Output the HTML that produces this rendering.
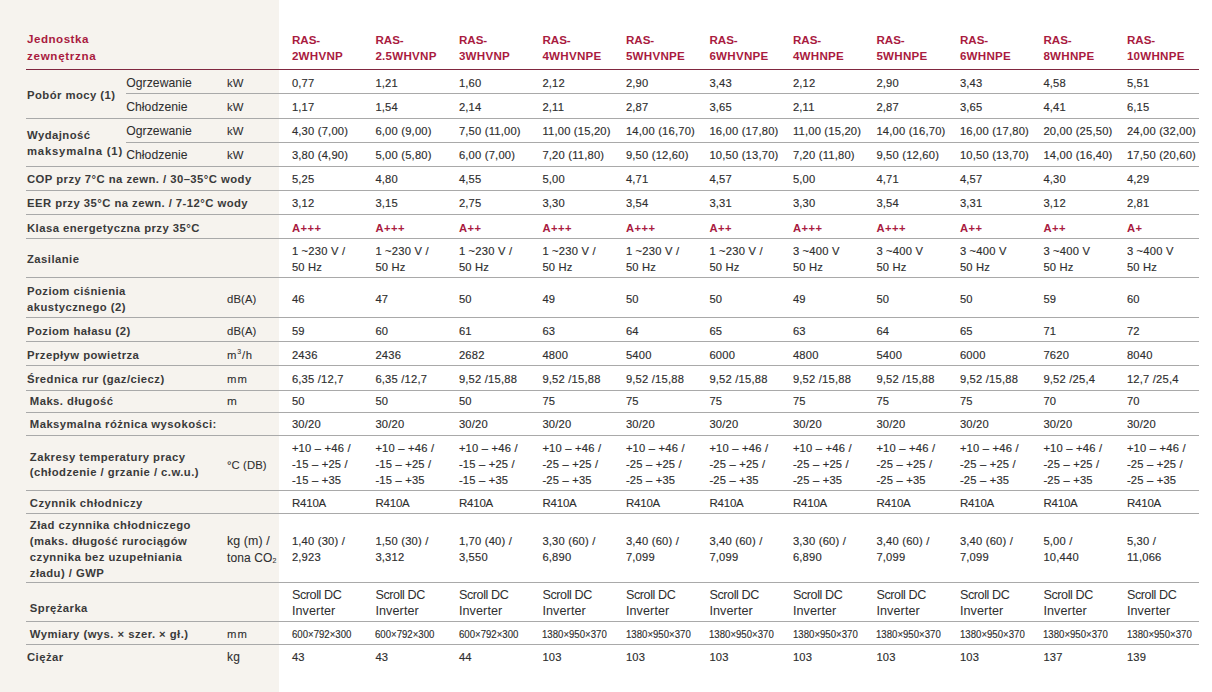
<!DOCTYPE html>
<html lang="pl"><head><meta charset="utf-8"><title>Jednostka zewnętrzna</title>
<style>
*{margin:0;padding:0;box-sizing:border-box}
html,body{width:1212px;height:692px;overflow:hidden;background:#fff}
body{position:relative;font-family:"Liberation Sans",Arial,sans-serif;color:#2e2e2e}
.bg{position:absolute;left:0;top:0;width:279px;height:692px;background:#f6f3ee}
.l{position:absolute;height:1px}
.t{position:absolute;white-space:nowrap;line-height:16px;font-size:11.2px;-webkit-text-stroke:0.15px #2e2e2e}
.hd{-webkit-text-stroke:0;color:#a91b3f;font-weight:bold;font-size:11.6px;letter-spacing:0.5px}
.lb{-webkit-text-stroke:0;font-weight:bold;font-size:11.3px;letter-spacing:0.45px;color:#3a3a3a}
.sl{font-size:12.2px;letter-spacing:0.05px;-webkit-text-stroke:0.05px #2e2e2e}
.un{font-size:11.3px;letter-spacing:0.1px;-webkit-text-stroke:0.08px #2e2e2e}
.v{font-size:11.2px;letter-spacing:0.2px}
.v2{font-size:11.8px;letter-spacing:0.3px;-webkit-text-stroke:0}
.v3{font-size:11.5px;letter-spacing:-0.2px;-webkit-text-stroke:0.1px #2e2e2e}
.u2{font-size:12.2px;letter-spacing:0.1px}
.cl{color:#a91b3f;font-weight:bold;font-size:11.2px;letter-spacing:0.5px;-webkit-text-stroke:0}
.dm{font-size:11.2px;transform:scaleX(0.86);transform-origin:0 0}
sup{font-size:7px;vertical-align:5px;line-height:0}
sub{font-size:7px;vertical-align:-1px;line-height:0}
</style></head>
<body><div class="bg"></div>
<div class="l" style="left:26px;top:69px;width:1173px;background:#80273f"></div>
<div class="l" style="left:26px;top:118px;width:1173px;background:#a9a9a9"></div>
<div class="l" style="left:26px;top:166px;width:1173px;background:#a9a9a9"></div>
<div class="l" style="left:26px;top:190px;width:1173px;background:#a9a9a9"></div>
<div class="l" style="left:26px;top:214px;width:1173px;background:#a9a9a9"></div>
<div class="l" style="left:26px;top:238px;width:1173px;background:#a9a9a9"></div>
<div class="l" style="left:26px;top:277px;width:1173px;background:#a9a9a9"></div>
<div class="l" style="left:26px;top:317px;width:1173px;background:#a9a9a9"></div>
<div class="l" style="left:26px;top:341px;width:1173px;background:#a9a9a9"></div>
<div class="l" style="left:26px;top:365px;width:1173px;background:#a9a9a9"></div>
<div class="l" style="left:26px;top:390px;width:1173px;background:#a9a9a9"></div>
<div class="l" style="left:26px;top:412px;width:1173px;background:#a9a9a9"></div>
<div class="l" style="left:26px;top:435px;width:1173px;background:#a9a9a9"></div>
<div class="l" style="left:26px;top:490px;width:1173px;background:#a9a9a9"></div>
<div class="l" style="left:26px;top:513px;width:1173px;background:#a9a9a9"></div>
<div class="l" style="left:26px;top:582px;width:1173px;background:#a9a9a9"></div>
<div class="l" style="left:26px;top:621px;width:1173px;background:#a9a9a9"></div>
<div class="l" style="left:26px;top:644px;width:1173px;background:#a9a9a9"></div>
<div class="l" style="left:126px;top:93px;width:1073px;background:#a9a9a9"></div>
<div class="l" style="left:126px;top:142px;width:1073px;background:#a9a9a9"></div>
<div class="t hd" style="left:27.0px;top:31px;">Jednostka</div>
<div class="t hd" style="left:27.0px;top:48px;letter-spacing:0.7px">zewnętrzna</div>
<div class="t hd" style="left:291.9px;top:32px;letter-spacing:0">RAS-</div>
<div class="t hd" style="left:291.9px;top:48px;letter-spacing:0.25px">2WHVNP</div>
<div class="t hd" style="left:375.4px;top:32px;letter-spacing:0">RAS-</div>
<div class="t hd" style="left:375.4px;top:48px;letter-spacing:0.25px">2.5WHVNP</div>
<div class="t hd" style="left:458.9px;top:32px;letter-spacing:0">RAS-</div>
<div class="t hd" style="left:458.9px;top:48px;letter-spacing:0.25px">3WHVNP</div>
<div class="t hd" style="left:542.4px;top:32px;letter-spacing:0">RAS-</div>
<div class="t hd" style="left:542.4px;top:48px;letter-spacing:0.25px">4WHVNPE</div>
<div class="t hd" style="left:625.9px;top:32px;letter-spacing:0">RAS-</div>
<div class="t hd" style="left:625.9px;top:48px;letter-spacing:0.25px">5WHVNPE</div>
<div class="t hd" style="left:709.4px;top:32px;letter-spacing:0">RAS-</div>
<div class="t hd" style="left:709.4px;top:48px;letter-spacing:0.25px">6WHVNPE</div>
<div class="t hd" style="left:792.9px;top:32px;letter-spacing:0">RAS-</div>
<div class="t hd" style="left:792.9px;top:48px;letter-spacing:0.25px">4WHNPE</div>
<div class="t hd" style="left:876.4px;top:32px;letter-spacing:0">RAS-</div>
<div class="t hd" style="left:876.4px;top:48px;letter-spacing:0.25px">5WHNPE</div>
<div class="t hd" style="left:959.9px;top:32px;letter-spacing:0">RAS-</div>
<div class="t hd" style="left:959.9px;top:48px;letter-spacing:0.25px">6WHNPE</div>
<div class="t hd" style="left:1043.4px;top:32px;letter-spacing:0">RAS-</div>
<div class="t hd" style="left:1043.4px;top:48px;letter-spacing:0.25px">8WHNPE</div>
<div class="t hd" style="left:1126.9px;top:32px;letter-spacing:0">RAS-</div>
<div class="t hd" style="left:1126.9px;top:48px;letter-spacing:0.25px">10WHNPE</div>
<div class="t lb" style="left:27.0px;top:87px;">Pobór mocy (1)</div>
<div class="t sl" style="left:126.2px;top:75px;">Ogrzewanie</div>
<div class="t un" style="left:227.0px;top:75px;">kW</div>
<div class="t v" style="left:291.9px;top:75px;">0,77</div>
<div class="t v" style="left:375.4px;top:75px;">1,21</div>
<div class="t v" style="left:458.9px;top:75px;">1,60</div>
<div class="t v" style="left:542.4px;top:75px;">2,12</div>
<div class="t v" style="left:625.9px;top:75px;">2,90</div>
<div class="t v" style="left:709.4px;top:75px;">3,43</div>
<div class="t v" style="left:792.9px;top:75px;">2,12</div>
<div class="t v" style="left:876.4px;top:75px;">2,90</div>
<div class="t v" style="left:959.9px;top:75px;">3,43</div>
<div class="t v" style="left:1043.4px;top:75px;">4,58</div>
<div class="t v" style="left:1126.9px;top:75px;">5,51</div>
<div class="t sl" style="left:126.2px;top:99px;">Chłodzenie</div>
<div class="t un" style="left:227.0px;top:99px;">kW</div>
<div class="t v" style="left:291.9px;top:99px;">1,17</div>
<div class="t v" style="left:375.4px;top:99px;">1,54</div>
<div class="t v" style="left:458.9px;top:99px;">2,14</div>
<div class="t v" style="left:542.4px;top:99px;">2,11</div>
<div class="t v" style="left:625.9px;top:99px;">2,87</div>
<div class="t v" style="left:709.4px;top:99px;">3,65</div>
<div class="t v" style="left:792.9px;top:99px;">2,11</div>
<div class="t v" style="left:876.4px;top:99px;">2,87</div>
<div class="t v" style="left:959.9px;top:99px;">3,65</div>
<div class="t v" style="left:1043.4px;top:99px;">4,41</div>
<div class="t v" style="left:1126.9px;top:99px;">6,15</div>
<div class="t lb" style="left:27.0px;top:127px;">Wydajność</div>
<div class="t lb" style="left:27.0px;top:143px;letter-spacing:0.8px">maksymalna (1)</div>
<div class="t sl" style="left:126.2px;top:123px;">Ogrzewanie</div>
<div class="t un" style="left:227.0px;top:123px;">kW</div>
<div class="t v" style="left:291.9px;top:123px;">4,30 (7,00)</div>
<div class="t v" style="left:375.4px;top:123px;">6,00 (9,00)</div>
<div class="t v" style="left:458.9px;top:123px;">7,50 (11,00)</div>
<div class="t v" style="left:542.4px;top:123px;">11,00 (15,20)</div>
<div class="t v" style="left:625.9px;top:123px;">14,00 (16,70)</div>
<div class="t v" style="left:709.4px;top:123px;">16,00 (17,80)</div>
<div class="t v" style="left:792.9px;top:123px;">11,00 (15,20)</div>
<div class="t v" style="left:876.4px;top:123px;">14,00 (16,70)</div>
<div class="t v" style="left:959.9px;top:123px;">16,00 (17,80)</div>
<div class="t v" style="left:1043.4px;top:123px;">20,00 (25,50)</div>
<div class="t v" style="left:1126.9px;top:123px;">24,00 (32,00)</div>
<div class="t sl" style="left:126.2px;top:147px;">Chłodzenie</div>
<div class="t un" style="left:227.0px;top:147px;">kW</div>
<div class="t v" style="left:291.9px;top:147px;">3,80 (4,90)</div>
<div class="t v" style="left:375.4px;top:147px;">5,00 (5,80)</div>
<div class="t v" style="left:458.9px;top:147px;">6,00 (7,00)</div>
<div class="t v" style="left:542.4px;top:147px;">7,20 (11,80)</div>
<div class="t v" style="left:625.9px;top:147px;">9,50 (12,60)</div>
<div class="t v" style="left:709.4px;top:147px;">10,50 (13,70)</div>
<div class="t v" style="left:792.9px;top:147px;">7,20 (11,80)</div>
<div class="t v" style="left:876.4px;top:147px;">9,50 (12,60)</div>
<div class="t v" style="left:959.9px;top:147px;">10,50 (13,70)</div>
<div class="t v" style="left:1043.4px;top:147px;">14,00 (16,40)</div>
<div class="t v" style="left:1126.9px;top:147px;">17,50 (20,60)</div>
<div class="t lb" style="left:27.0px;top:171px;">COP przy 7°C na zewn. / 30–35°C wody</div>
<div class="t v" style="left:291.9px;top:171px;">5,25</div>
<div class="t v" style="left:375.4px;top:171px;">4,80</div>
<div class="t v" style="left:458.9px;top:171px;">4,55</div>
<div class="t v" style="left:542.4px;top:171px;">5,00</div>
<div class="t v" style="left:625.9px;top:171px;">4,71</div>
<div class="t v" style="left:709.4px;top:171px;">4,57</div>
<div class="t v" style="left:792.9px;top:171px;">5,00</div>
<div class="t v" style="left:876.4px;top:171px;">4,71</div>
<div class="t v" style="left:959.9px;top:171px;">4,57</div>
<div class="t v" style="left:1043.4px;top:171px;">4,30</div>
<div class="t v" style="left:1126.9px;top:171px;">4,29</div>
<div class="t lb" style="left:27.0px;top:195px;">EER przy 35°C na zewn. / 7-12°C wody</div>
<div class="t v" style="left:291.9px;top:195px;">3,12</div>
<div class="t v" style="left:375.4px;top:195px;">3,15</div>
<div class="t v" style="left:458.9px;top:195px;">2,75</div>
<div class="t v" style="left:542.4px;top:195px;">3,30</div>
<div class="t v" style="left:625.9px;top:195px;">3,54</div>
<div class="t v" style="left:709.4px;top:195px;">3,31</div>
<div class="t v" style="left:792.9px;top:195px;">3,30</div>
<div class="t v" style="left:876.4px;top:195px;">3,54</div>
<div class="t v" style="left:959.9px;top:195px;">3,31</div>
<div class="t v" style="left:1043.4px;top:195px;">3,12</div>
<div class="t v" style="left:1126.9px;top:195px;">2,81</div>
<div class="t lb" style="left:27.0px;top:220px;">Klasa energetyczna przy 35°C</div>
<div class="t cl" style="left:291.9px;top:220px;">A+++</div>
<div class="t cl" style="left:375.4px;top:220px;">A+++</div>
<div class="t cl" style="left:458.9px;top:220px;">A++</div>
<div class="t cl" style="left:542.4px;top:220px;">A+++</div>
<div class="t cl" style="left:625.9px;top:220px;">A+++</div>
<div class="t cl" style="left:709.4px;top:220px;">A++</div>
<div class="t cl" style="left:792.9px;top:220px;">A+++</div>
<div class="t cl" style="left:876.4px;top:220px;">A+++</div>
<div class="t cl" style="left:959.9px;top:220px;">A++</div>
<div class="t cl" style="left:1043.4px;top:220px;">A++</div>
<div class="t cl" style="left:1126.9px;top:220px;">A+</div>
<div class="t lb" style="left:27.0px;top:251px;">Zasilanie</div>
<div class="t v" style="left:291.9px;top:243px;">1 ~230 V /</div>
<div class="t v" style="left:291.9px;top:259px;">50 Hz</div>
<div class="t v" style="left:375.4px;top:243px;">1 ~230 V /</div>
<div class="t v" style="left:375.4px;top:259px;">50 Hz</div>
<div class="t v" style="left:458.9px;top:243px;">1 ~230 V /</div>
<div class="t v" style="left:458.9px;top:259px;">50 Hz</div>
<div class="t v" style="left:542.4px;top:243px;">1 ~230 V /</div>
<div class="t v" style="left:542.4px;top:259px;">50 Hz</div>
<div class="t v" style="left:625.9px;top:243px;">1 ~230 V /</div>
<div class="t v" style="left:625.9px;top:259px;">50 Hz</div>
<div class="t v" style="left:709.4px;top:243px;">1 ~230 V /</div>
<div class="t v" style="left:709.4px;top:259px;">50 Hz</div>
<div class="t v" style="left:792.9px;top:243px;">3 ~400 V</div>
<div class="t v" style="left:792.9px;top:259px;">50 Hz</div>
<div class="t v" style="left:876.4px;top:243px;">3 ~400 V</div>
<div class="t v" style="left:876.4px;top:259px;">50 Hz</div>
<div class="t v" style="left:959.9px;top:243px;">3 ~400 V</div>
<div class="t v" style="left:959.9px;top:259px;">50 Hz</div>
<div class="t v" style="left:1043.4px;top:243px;">3 ~400 V</div>
<div class="t v" style="left:1043.4px;top:259px;">50 Hz</div>
<div class="t v" style="left:1126.9px;top:243px;">3 ~400 V</div>
<div class="t v" style="left:1126.9px;top:259px;">50 Hz</div>
<div class="t lb" style="left:27.0px;top:283px;">Poziom ciśnienia</div>
<div class="t lb" style="left:27.0px;top:299px;">akustycznego (2)</div>
<div class="t un" style="left:227.0px;top:291px;">dB(A)</div>
<div class="t v" style="left:291.9px;top:291px;">46</div>
<div class="t v" style="left:375.4px;top:291px;">47</div>
<div class="t v" style="left:458.9px;top:291px;">50</div>
<div class="t v" style="left:542.4px;top:291px;">49</div>
<div class="t v" style="left:625.9px;top:291px;">50</div>
<div class="t v" style="left:709.4px;top:291px;">50</div>
<div class="t v" style="left:792.9px;top:291px;">49</div>
<div class="t v" style="left:876.4px;top:291px;">50</div>
<div class="t v" style="left:959.9px;top:291px;">50</div>
<div class="t v" style="left:1043.4px;top:291px;">59</div>
<div class="t v" style="left:1126.9px;top:291px;">60</div>
<div class="t lb" style="left:27.0px;top:323px;">Poziom hałasu (2)</div>
<div class="t un" style="left:227.0px;top:323px;">dB(A)</div>
<div class="t v" style="left:291.9px;top:323px;">59</div>
<div class="t v" style="left:375.4px;top:323px;">60</div>
<div class="t v" style="left:458.9px;top:323px;">61</div>
<div class="t v" style="left:542.4px;top:323px;">63</div>
<div class="t v" style="left:625.9px;top:323px;">64</div>
<div class="t v" style="left:709.4px;top:323px;">65</div>
<div class="t v" style="left:792.9px;top:323px;">63</div>
<div class="t v" style="left:876.4px;top:323px;">64</div>
<div class="t v" style="left:959.9px;top:323px;">65</div>
<div class="t v" style="left:1043.4px;top:323px;">71</div>
<div class="t v" style="left:1126.9px;top:323px;">72</div>
<div class="t lb" style="left:27.0px;top:347px;">Przepływ powietrza</div>
<div class="t v" style="left:291.9px;top:347px;">2436</div>
<div class="t v" style="left:375.4px;top:347px;">2436</div>
<div class="t v" style="left:458.9px;top:347px;">2682</div>
<div class="t v" style="left:542.4px;top:347px;">4800</div>
<div class="t v" style="left:625.9px;top:347px;">5400</div>
<div class="t v" style="left:709.4px;top:347px;">6000</div>
<div class="t v" style="left:792.9px;top:347px;">4800</div>
<div class="t v" style="left:876.4px;top:347px;">5400</div>
<div class="t v" style="left:959.9px;top:347px;">6000</div>
<div class="t v" style="left:1043.4px;top:347px;">7620</div>
<div class="t v" style="left:1126.9px;top:347px;">8040</div>
<div class="t lb" style="left:27.0px;top:371px;">Średnica rur (gaz/ciecz)</div>
<div class="t v" style="left:291.9px;top:371px;">6,35 /12,7</div>
<div class="t v" style="left:375.4px;top:371px;">6,35 /12,7</div>
<div class="t v" style="left:458.9px;top:371px;">9,52 /15,88</div>
<div class="t v" style="left:542.4px;top:371px;">9,52 /15,88</div>
<div class="t v" style="left:625.9px;top:371px;">9,52 /15,88</div>
<div class="t v" style="left:709.4px;top:371px;">9,52 /15,88</div>
<div class="t v" style="left:792.9px;top:371px;">9,52 /15,88</div>
<div class="t v" style="left:876.4px;top:371px;">9,52 /15,88</div>
<div class="t v" style="left:959.9px;top:371px;">9,52 /15,88</div>
<div class="t v" style="left:1043.4px;top:371px;">9,52 /25,4</div>
<div class="t v" style="left:1126.9px;top:371px;">12,7 /25,4</div>
<div class="t lb" style="left:29.8px;top:393px;">Maks. długość</div>
<div class="t v" style="left:291.9px;top:393px;">50</div>
<div class="t v" style="left:375.4px;top:393px;">50</div>
<div class="t v" style="left:458.9px;top:393px;">50</div>
<div class="t v" style="left:542.4px;top:393px;">75</div>
<div class="t v" style="left:625.9px;top:393px;">75</div>
<div class="t v" style="left:709.4px;top:393px;">75</div>
<div class="t v" style="left:792.9px;top:393px;">75</div>
<div class="t v" style="left:876.4px;top:393px;">75</div>
<div class="t v" style="left:959.9px;top:393px;">75</div>
<div class="t v" style="left:1043.4px;top:393px;">70</div>
<div class="t v" style="left:1126.9px;top:393px;">70</div>
<div class="t lb" style="left:29.8px;top:416px;">Maksymalna różnica wysokości:</div>
<div class="t v" style="left:291.9px;top:416px;">30/20</div>
<div class="t v" style="left:375.4px;top:416px;">30/20</div>
<div class="t v" style="left:458.9px;top:416px;">30/20</div>
<div class="t v" style="left:542.4px;top:416px;">30/20</div>
<div class="t v" style="left:625.9px;top:416px;">30/20</div>
<div class="t v" style="left:709.4px;top:416px;">30/20</div>
<div class="t v" style="left:792.9px;top:416px;">30/20</div>
<div class="t v" style="left:876.4px;top:416px;">30/20</div>
<div class="t v" style="left:959.9px;top:416px;">30/20</div>
<div class="t v" style="left:1043.4px;top:416px;">30/20</div>
<div class="t v" style="left:1126.9px;top:416px;">30/20</div>
<div class="t lb" style="left:29.8px;top:449px;">Zakresy temperatury pracy</div>
<div class="t lb" style="left:29.8px;top:464px;">(chłodzenie / grzanie / c.w.u.)</div>
<div class="t v" style="left:291.9px;top:440px;">+10 – +46 /</div>
<div class="t v" style="left:291.9px;top:456px;">-15 – +25 /</div>
<div class="t v" style="left:291.9px;top:472px;">-15 – +35</div>
<div class="t v" style="left:375.4px;top:440px;">+10 – +46 /</div>
<div class="t v" style="left:375.4px;top:456px;">-15 – +25 /</div>
<div class="t v" style="left:375.4px;top:472px;">-15 – +35</div>
<div class="t v" style="left:458.9px;top:440px;">+10 – +46 /</div>
<div class="t v" style="left:458.9px;top:456px;">-15 – +25 /</div>
<div class="t v" style="left:458.9px;top:472px;">-15 – +35</div>
<div class="t v" style="left:542.4px;top:440px;">+10 – +46 /</div>
<div class="t v" style="left:542.4px;top:456px;">-25 – +25 /</div>
<div class="t v" style="left:542.4px;top:472px;">-25 – +35</div>
<div class="t v" style="left:625.9px;top:440px;">+10 – +46 /</div>
<div class="t v" style="left:625.9px;top:456px;">-25 – +25 /</div>
<div class="t v" style="left:625.9px;top:472px;">-25 – +35</div>
<div class="t v" style="left:709.4px;top:440px;">+10 – +46 /</div>
<div class="t v" style="left:709.4px;top:456px;">-25 – +25 /</div>
<div class="t v" style="left:709.4px;top:472px;">-25 – +35</div>
<div class="t v" style="left:792.9px;top:440px;">+10 – +46 /</div>
<div class="t v" style="left:792.9px;top:456px;">-25 – +25 /</div>
<div class="t v" style="left:792.9px;top:472px;">-25 – +35</div>
<div class="t v" style="left:876.4px;top:440px;">+10 – +46 /</div>
<div class="t v" style="left:876.4px;top:456px;">-25 – +25 /</div>
<div class="t v" style="left:876.4px;top:472px;">-25 – +35</div>
<div class="t v" style="left:959.9px;top:440px;">+10 – +46 /</div>
<div class="t v" style="left:959.9px;top:456px;">-25 – +25 /</div>
<div class="t v" style="left:959.9px;top:472px;">-25 – +35</div>
<div class="t v" style="left:1043.4px;top:440px;">+10 – +46 /</div>
<div class="t v" style="left:1043.4px;top:456px;">-25 – +25 /</div>
<div class="t v" style="left:1043.4px;top:472px;">-25 – +35</div>
<div class="t v" style="left:1126.9px;top:440px;">+10 – +46 /</div>
<div class="t v" style="left:1126.9px;top:456px;">-25 – +25 /</div>
<div class="t v" style="left:1126.9px;top:472px;">-25 – +35</div>
<div class="t un" style="left:227.0px;top:457px;">°C (DB)</div>
<div class="t un" style="left:227.0px;top:347px;letter-spacing:0.8px">m<sup>3</sup>/h</div>
<div class="t un" style="left:227.0px;top:371px;letter-spacing:1.2px">mm</div>
<div class="t un" style="left:227.0px;top:393px;font-size:11.8px">m</div>
<div class="t un" style="left:227.0px;top:626px;letter-spacing:1.2px">mm</div>
<div class="t un" style="left:227.0px;top:649px;font-size:12px;letter-spacing:0.3px">kg</div>
<div class="t lb" style="left:29.8px;top:495px;">Czynnik chłodniczy</div>
<div class="t v3" style="left:291.9px;top:495px;">R410A</div>
<div class="t v3" style="left:375.4px;top:495px;">R410A</div>
<div class="t v3" style="left:458.9px;top:495px;">R410A</div>
<div class="t v3" style="left:542.4px;top:495px;">R410A</div>
<div class="t v3" style="left:625.9px;top:495px;">R410A</div>
<div class="t v3" style="left:709.4px;top:495px;">R410A</div>
<div class="t v3" style="left:792.9px;top:495px;">R410A</div>
<div class="t v3" style="left:876.4px;top:495px;">R410A</div>
<div class="t v3" style="left:959.9px;top:495px;">R410A</div>
<div class="t v3" style="left:1043.4px;top:495px;">R410A</div>
<div class="t v3" style="left:1126.9px;top:495px;">R410A</div>
<div class="t lb" style="left:29.8px;top:517px;">Zład czynnika chłodniczego</div>
<div class="t lb" style="left:29.8px;top:533px;">(maks. długość rurociągów</div>
<div class="t lb" style="left:29.8px;top:549px;">czynnika bez uzupełniania</div>
<div class="t lb" style="left:29.8px;top:565px;">zładu) / GWP</div>
<div class="t v" style="left:291.9px;top:533px;">1,40 (30) /</div>
<div class="t v" style="left:291.9px;top:549px;">2,923</div>
<div class="t v" style="left:375.4px;top:533px;">1,50 (30) /</div>
<div class="t v" style="left:375.4px;top:549px;">3,312</div>
<div class="t v" style="left:458.9px;top:533px;">1,70 (40) /</div>
<div class="t v" style="left:458.9px;top:549px;">3,550</div>
<div class="t v" style="left:542.4px;top:533px;">3,30 (60) /</div>
<div class="t v" style="left:542.4px;top:549px;">6,890</div>
<div class="t v" style="left:625.9px;top:533px;">3,40 (60) /</div>
<div class="t v" style="left:625.9px;top:549px;">7,099</div>
<div class="t v" style="left:709.4px;top:533px;">3,40 (60) /</div>
<div class="t v" style="left:709.4px;top:549px;">7,099</div>
<div class="t v" style="left:792.9px;top:533px;">3,30 (60) /</div>
<div class="t v" style="left:792.9px;top:549px;">6,890</div>
<div class="t v" style="left:876.4px;top:533px;">3,40 (60) /</div>
<div class="t v" style="left:876.4px;top:549px;">7,099</div>
<div class="t v" style="left:959.9px;top:533px;">3,40 (60) /</div>
<div class="t v" style="left:959.9px;top:549px;">7,099</div>
<div class="t v" style="left:1043.4px;top:533px;">5,00 /</div>
<div class="t v" style="left:1043.4px;top:549px;">10,440</div>
<div class="t v" style="left:1126.9px;top:533px;">5,30 /</div>
<div class="t v" style="left:1126.9px;top:549px;">11,066</div>
<div class="t un" style="left:227.0px;top:533px;font-size:12.4px">kg (m) /</div>
<div class="t un" style="left:227.0px;top:550px;font-size:12px">tona CO<sub>2</sub></div>
<div class="t v2" style="left:291.9px;top:587px;font-size:12.6px;letter-spacing:-0.4px">Scroll DC</div>
<div class="t v2" style="left:291.9px;top:603px;font-size:12.6px;letter-spacing:0.1px">Inverter</div>
<div class="t v2" style="left:375.4px;top:587px;font-size:12.6px;letter-spacing:-0.4px">Scroll DC</div>
<div class="t v2" style="left:375.4px;top:603px;font-size:12.6px;letter-spacing:0.1px">Inverter</div>
<div class="t v2" style="left:458.9px;top:587px;font-size:12.6px;letter-spacing:-0.4px">Scroll DC</div>
<div class="t v2" style="left:458.9px;top:603px;font-size:12.6px;letter-spacing:0.1px">Inverter</div>
<div class="t v2" style="left:542.4px;top:587px;font-size:12.6px;letter-spacing:-0.4px">Scroll DC</div>
<div class="t v2" style="left:542.4px;top:603px;font-size:12.6px;letter-spacing:0.1px">Inverter</div>
<div class="t v2" style="left:625.9px;top:587px;font-size:12.6px;letter-spacing:-0.4px">Scroll DC</div>
<div class="t v2" style="left:625.9px;top:603px;font-size:12.6px;letter-spacing:0.1px">Inverter</div>
<div class="t v2" style="left:709.4px;top:587px;font-size:12.6px;letter-spacing:-0.4px">Scroll DC</div>
<div class="t v2" style="left:709.4px;top:603px;font-size:12.6px;letter-spacing:0.1px">Inverter</div>
<div class="t v2" style="left:792.9px;top:587px;font-size:12.6px;letter-spacing:-0.4px">Scroll DC</div>
<div class="t v2" style="left:792.9px;top:603px;font-size:12.6px;letter-spacing:0.1px">Inverter</div>
<div class="t v2" style="left:876.4px;top:587px;font-size:12.6px;letter-spacing:-0.4px">Scroll DC</div>
<div class="t v2" style="left:876.4px;top:603px;font-size:12.6px;letter-spacing:0.1px">Inverter</div>
<div class="t v2" style="left:959.9px;top:587px;font-size:12.6px;letter-spacing:-0.4px">Scroll DC</div>
<div class="t v2" style="left:959.9px;top:603px;font-size:12.6px;letter-spacing:0.1px">Inverter</div>
<div class="t v2" style="left:1043.4px;top:587px;font-size:12.6px;letter-spacing:-0.4px">Scroll DC</div>
<div class="t v2" style="left:1043.4px;top:603px;font-size:12.6px;letter-spacing:0.1px">Inverter</div>
<div class="t v2" style="left:1126.9px;top:587px;font-size:12.6px;letter-spacing:-0.4px">Scroll DC</div>
<div class="t v2" style="left:1126.9px;top:603px;font-size:12.6px;letter-spacing:0.1px">Inverter</div>
<div class="t lb" style="left:29.8px;top:600px;">Sprężarka</div>
<div class="t lb" style="left:29.8px;top:626px;">Wymiary (wys. × szer. × gł.)</div>
<div class="t dm" style="left:291.9px;top:626px;">600×792×300</div>
<div class="t dm" style="left:375.4px;top:626px;">600×792×300</div>
<div class="t dm" style="left:458.9px;top:626px;">600×792×300</div>
<div class="t dm" style="left:542.4px;top:626px;">1380×950×370</div>
<div class="t dm" style="left:625.9px;top:626px;">1380×950×370</div>
<div class="t dm" style="left:709.4px;top:626px;">1380×950×370</div>
<div class="t dm" style="left:792.9px;top:626px;">1380×950×370</div>
<div class="t dm" style="left:876.4px;top:626px;">1380×950×370</div>
<div class="t dm" style="left:959.9px;top:626px;">1380×950×370</div>
<div class="t dm" style="left:1043.4px;top:626px;">1380×950×370</div>
<div class="t dm" style="left:1126.9px;top:626px;">1380×950×370</div>
<div class="t lb" style="left:27.0px;top:649px;">Ciężar</div>
<div class="t v" style="left:291.9px;top:649px;">43</div>
<div class="t v" style="left:375.4px;top:649px;">43</div>
<div class="t v" style="left:458.9px;top:649px;">44</div>
<div class="t v" style="left:542.4px;top:649px;">103</div>
<div class="t v" style="left:625.9px;top:649px;">103</div>
<div class="t v" style="left:709.4px;top:649px;">103</div>
<div class="t v" style="left:792.9px;top:649px;">103</div>
<div class="t v" style="left:876.4px;top:649px;">103</div>
<div class="t v" style="left:959.9px;top:649px;">103</div>
<div class="t v" style="left:1043.4px;top:649px;">137</div>
<div class="t v" style="left:1126.9px;top:649px;">139</div>
</body></html>
